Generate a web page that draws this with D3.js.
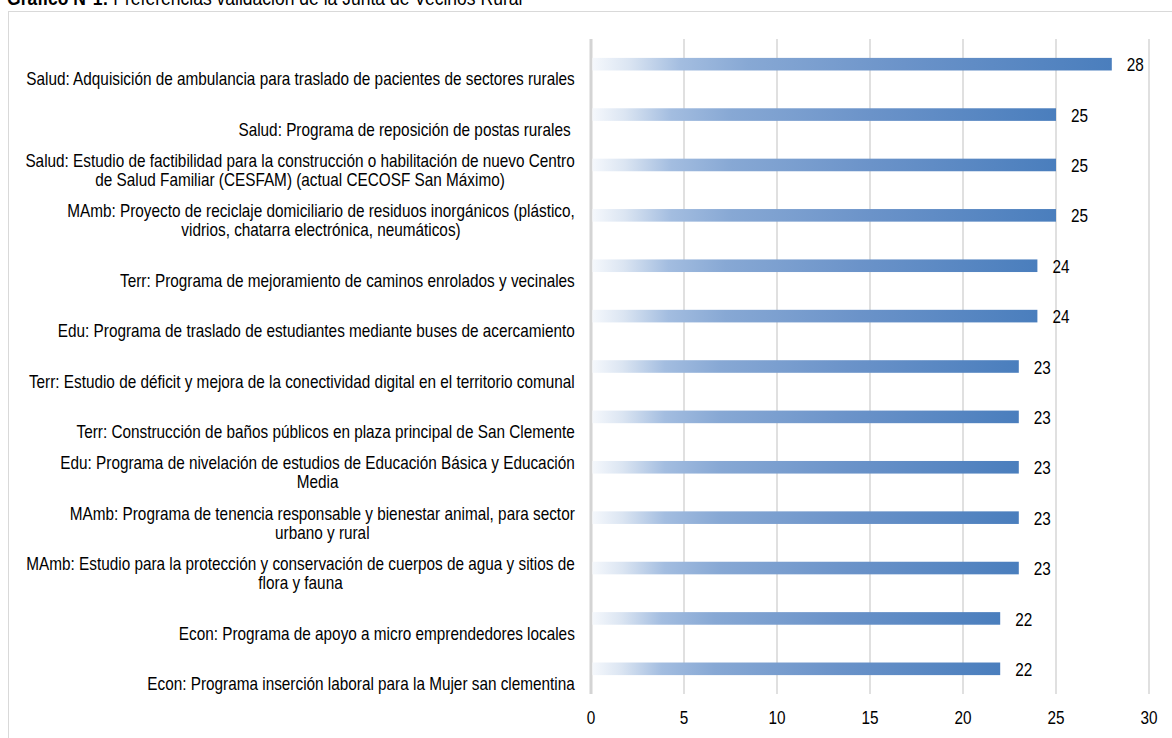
<!DOCTYPE html>
<html>
<head>
<meta charset="utf-8">
<script src="https://cdn.jsdelivr.net/npm/d3@7/dist/d3.min.js"></script>
<style>
  html, body { margin: 0; padding: 0; background: #ffffff; }
  svg { display: block; }
  text { font-family: "Liberation Sans Narrow", "Arial Narrow", "Liberation Sans", Arial, sans-serif; fill: #000; }
</style>
</head>
<body>
<svg id="chart" width="1172" height="738"></svg>
<script>
const titleBold = "Gráfico N°1:";
const titleRest = " Preferencias validación de la Junta de Vecinos Rural";

const categories = [
  "Salud: Adquisición de ambulancia para traslado de pacientes de sectores rurales",
  "Salud: Programa de reposición de postas rurales ",
  "Salud: Estudio de factibilidad para la construcción o habilitación de nuevo Centro\nde Salud Familiar (CESFAM) (actual CECOSF San Máximo)",
  "MAmb: Proyecto de reciclaje domiciliario de residuos inorgánicos (plástico,\nvidrios, chatarra electrónica, neumáticos)",
  "Terr: Programa de mejoramiento de caminos enrolados y vecinales",
  "Edu: Programa de traslado de estudiantes mediante buses de acercamiento",
  "Terr: Estudio de déficit y mejora de la conectividad digital en el territorio comunal",
  "Terr: Construcción de baños públicos en plaza principal de San Clemente",
  "Edu: Programa de nivelación de estudios de Educación Básica y Educación\nMedia",
  "MAmb: Programa de tenencia responsable y bienestar animal, para sector\nurbano y rural",
  "MAmb: Estudio para la protección y conservación de cuerpos de agua y sitios de\nflora y fauna",
  "Econ: Programa de apoyo a micro emprendedores locales",
  "Econ: Programa inserción laboral para la Mujer san clementina"
];
const values = [28, 25, 25, 25, 24, 24, 23, 23, 23, 23, 23, 22, 22];
const xTicks = [0, 5, 10, 15, 20, 25, 30];

const svg = d3.select("#chart");
const FS = 17.5;

const x = d3.scaleLinear().domain([0, 30]).range([591, 1149]);
const y = d3.scaleBand().domain(categories).range([39, 694]).paddingInner(0.75).paddingOuter(0.375);

// measure horizontal compression so the font looks like a narrow face
const probe = svg.append("text").style("font-size", FS + "px").text(categories[0]);
const SX = Math.min(1, 549 / probe.node().getComputedTextLength());
probe.remove();

function stext(parent, ax, ay, anchor) {
  return parent.append("g").attr("transform", `translate(${ax},${ay}) scale(${SX},1)`)
    .append("text").attr("text-anchor", anchor).style("font-size", FS + "px");
}

// frame
svg.append("rect")
  .attr("x", 8.5).attr("y", 11.5).attr("width", 1200).attr("height", 800)
  .attr("fill", "#fff").attr("stroke", "#d9d9d9").attr("stroke-width", 1);

// title
const t = stext(svg, 7, 5, "start").style("font-size", "20px");
t.append("tspan").style("font-weight", "bold").text(titleBold);
t.append("tspan").text(titleRest);

// gradient
const defs = svg.append("defs");
const grad = defs.append("linearGradient").attr("id", "barGrad")
  .attr("x1", "0").attr("y1", "0").attr("x2", "1").attr("y2", "0");
[[0, "#f5f8fc"], [0.07, "#dbe5f2"], [0.17, "#a3bde0"], [0.3, "#87a8d4"], [0.6, "#6b93c9"], [1, "#4a7ebd"]]
  .forEach(([o, c]) => grad.append("stop").attr("offset", o).attr("stop-color", c));

// gridlines
svg.append("g").selectAll("line").data(xTicks.filter(d => d > 0)).join("line")
  .attr("x1", d => x(d)).attr("x2", d => x(d))
  .attr("y1", 39).attr("y2", 694)
  .attr("stroke", "#d9d9d9").attr("stroke-width", 1.6);
// zero axis
svg.append("line").attr("x1", x(0)).attr("x2", x(0)).attr("y1", 39).attr("y2", 694)
  .attr("stroke", "#d4d4d4").attr("stroke-width", 3);

// bars
svg.append("g").selectAll("rect").data(values).join("rect")
  .attr("x", x(0) + 1.5)
  .attr("y", (d, i) => y(categories[i]))
  .attr("width", d => x(d) - x(0) - 1.5)
  .attr("height", y.bandwidth())
  .attr("fill", "url(#barGrad)");

// value labels
const vg = svg.append("g");
values.forEach((d, i) => {
  stext(vg, x(d) + 15, y(categories[i]) + y.bandwidth() / 2 + 1, "start")
    .attr("dy", "0.35em").text(d);
});

// category labels
const cg = svg.append("g");
categories.forEach(c => {
  const lines = c.split("\n");
  const cy = y(c) + y.bandwidth() / 2 + 15;
  const el = cg.append("text").style("font-size", FS + "px").attr("text-anchor", "middle").style("white-space", "pre");
  const tsp = lines.map((ln, k) => el.append("tspan")
    .attr("x", 0)
    .attr("y", -(lines.length - 1 - k) * 19)
    .attr("dy", "0.35em")
    .text(ln));
  let w = 0;
  tsp.forEach(s => { w = Math.max(w, s.node().getComputedTextLength()); });
  const cx = 575 - (w * SX) / 2;
  el.remove();
  const g = cg.append("g").attr("transform", `translate(${cx},${cy}) scale(${SX},1)`);
  g.node().appendChild(el.node());
});

// x axis tick labels
const tg = svg.append("g");
xTicks.forEach(d => {
  stext(tg, x(d), 718, "middle").attr("dy", "0.35em").text(d);
});
</script>
</body>
</html>
